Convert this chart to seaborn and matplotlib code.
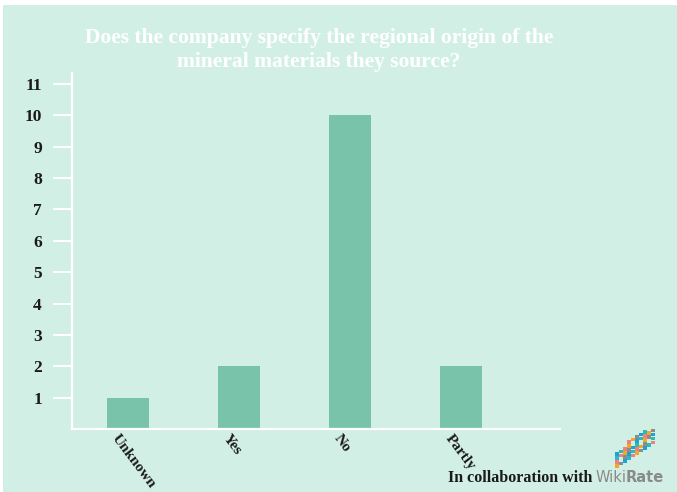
import matplotlib
matplotlib.use("Agg")
import matplotlib.pyplot as plt
import matplotlib.transforms as mtransforms
from matplotlib.patches import Rectangle
import seaborn as sns
import pandas as pd

# Survey answers and how many companies gave each one
answers = ["Unknown", "Yes", "No", "Partly"]
counts = [1, 2, 10, 2]
y_ticks = list(range(1, 12))

title = "Does the company specify the regional origin of the\nmineral materials they source?"

BG = "#d2efe6"
BAR = "#79c3ab"
SERIF = ["Liberation Serif", "DejaVu Serif"]

sns.set_theme(style="white")
plt.rcParams["font.family"] = SERIF

W, H = 677, 492
fig = plt.figure(figsize=(W / 100, H / 100), dpi=100, facecolor="white")

# mint panel with a thin white margin at the top and left
fig.add_artist(Rectangle((3 / W, 0), 1 - 3 / W, 1 - 5 / H,
                         transform=fig.transFigure, facecolor=BG,
                         edgecolor="none", zorder=-10))

left, right, top, bottom = 72, 560, 73, 429
ax = fig.add_axes([left / W, 1 - bottom / H, (right - left) / W, (bottom - top) / H])
ax.set_facecolor("none")

df = pd.DataFrame({"answer": answers, "count": counts})
sns.barplot(data=df, x="answer", y="count", order=answers, color=BAR,
            saturation=1, width=0.38, linewidth=0, edgecolor="none", ax=ax)

ax.set_ylim(0, 11.35)
ax.set_xlim(-0.505, 3.895)
ax.set_yticks(y_ticks)
ax.set_yticklabels([str(v) for v in y_ticks], fontsize=12.5, fontweight="bold",
                   color="#1a1a1a")
ax.set_xlabel("")
ax.set_ylabel("")

for side in ("top", "right"):
    ax.spines[side].set_visible(False)
for side in ("left", "bottom"):
    ax.spines[side].set_color("white")
    ax.spines[side].set_linewidth(1.6)

ax.tick_params(axis="y", length=13.7, width=1.4, color="white", pad=8, left=True)
ax.tick_params(axis="x", length=0, pad=2)

offset = mtransforms.ScaledTranslation(-8 / 100, 0, fig.dpi_scale_trans)
for lab in ax.get_xticklabels():
    lab.set_rotation(-53)
    lab.set_rotation_mode("anchor")
    lab.set_ha("left")
    lab.set_va("top")
    lab.set_fontsize(11)
    lab.set_fontweight("bold")
    lab.set_color("#1a1a1a")
    lab.set_transform(lab.get_transform() + offset)

fig.text(319 / W, 1 - 50 / H, title, ha="center", va="center", color="white",
         fontsize=15.5, fontweight="bold", linespacing=1.2)

# credit line
fig.text(592 / W, 1 - 478 / H, "In collaboration with", ha="right",
         va="center", fontsize=11.5, fontweight="bold", color="#1a1a1a")
wiki = fig.text(596 / W, 1 - 478 / H, "Wiki", ha="left", va="center",
                fontsize=10.5, color="#8a8a8a", family=["DejaVu Sans"])
fig.canvas.draw()
wiki_end = wiki.get_window_extent().x1
fig.text((wiki_end - 1) / W, 1 - 478 / H, "Rate", ha="left", va="center",
         fontsize=10.5, color="#8a8a8a", fontweight="bold",
         family=["DejaVu Sans"])

# dotted logo mark
logo = fig.add_axes([0, 0, 1, 1], zorder=5)
logo.set_xlim(0, W)
logo.set_ylim(H, 0)
logo.axis("off")
palette = ["#f5a623", "#1aa3d9", "#f08080", "#8c8c8c", "#2bbbbf"]
xs, ys, cs = [], [], []
for i in range(10):
    base = 466 - 2.6 * i
    rows = 5 if 2 <= i <= 7 else 4
    for k in range(rows):
        if (i + 2 * k) % 7 == 3 and k > 0:
            continue
        xs.append(617 + 4 * i)
        ys.append(base - 4 * k)
        cs.append(palette[(i * 3 + k * 2) % len(palette)])
logo.scatter(xs, ys, s=6, marker="s", c=cs, linewidths=0)

fig.savefig("out.png", dpi=100, facecolor="white")
